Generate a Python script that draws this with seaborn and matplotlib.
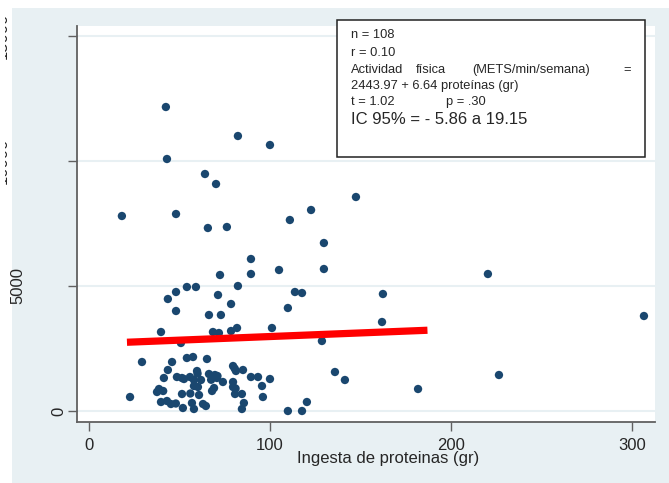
import matplotlib
matplotlib.use('Agg')
import matplotlib.pyplot as plt
import matplotlib.transforms as mtransforms
from matplotlib.patches import Rectangle
import seaborn as sns
import pandas as pd

# Protein intake (gr) vs physical activity (METS/min/semana)
protein_gr = [
    42.5, 43.1, 82.3, 100.0, 64.1, 70.2, 147.5, 18.2, 48.1, 65.7,
    76.2, 111.0, 122.7, 129.8, 89.5, 72.4, 89.5, 105.0, 129.8, 220.4,
    82.3, 54.1, 59.1, 48.1, 43.6, 71.3, 113.8, 117.7, 78.5, 48.1,
    109.9, 66.3, 72.9, 162.4, 39.8, 68.5, 71.8, 78.5, 81.8, 101.1,
    161.9, 306.6, 128.7, 50.8, 29.3, 45.9, 54.1, 57.5, 65.2, 79.6,
    85.1, 81.2, 43.6, 41.4, 48.6, 51.4, 55.8, 59.7, 58.0, 61.9,
    66.3, 69.6, 70.7, 74.0, 60.2, 58.0, 79.6, 89.5, 93.4, 100.0,
    95.6, 135.9, 141.4, 38.7, 37.6, 51.4, 60.8, 68.0, 69.1, 79.6,
    80.7, 84.5, 96.1, 22.7, 39.8, 43.1, 45.3, 56.9, 51.9, 58.0,
    63.0, 64.6, 85.6, 84.5, 109.9, 117.7, 120.4, 181.8, 226.5,
    60.0, 52.5, 67.5, 81.0, 41.0, 48.0, 71.0, 56.0, 80.5,
]
activity_mets = [
    12160, 10080, 11000, 10640, 9480, 9080, 8560, 7800, 7880, 7320,
    7360, 7640, 8040, 6720, 6080, 5440, 5480, 5640, 5680, 5480,
    5000, 4960, 4960, 4760, 4480, 4640, 4760, 4720, 4280, 4000,
    4120, 3840, 3840, 4680, 3160, 3160, 3120, 3200, 3320, 3320,
    3560, 3800, 2800, 2720, 1960, 1960, 2120, 2160, 2080, 1800,
    1640, 1600, 1640, 1320, 1360, 1320, 1360, 1600, 1240, 1240,
    1480, 1440, 1320, 1160, 960, 1000, 1160, 1360, 1360, 1280,
    1000, 1560, 1240, 880, 760, 680, 640, 800, 920, 960,
    680, 680, 560, 560, 360, 400, 280, 320, 120, 80,
    280, 200, 320, 80, 0, 0, 360, 880, 1440,
    1500, 1280, 1250, 900, 800, 300, 1400, 700, 1700,
]

# fitted line as drawn
fit_x = [21, 187]
fit_y = [2750, 3230]

x_ticks = [0, 100, 200, 300]
y_ticks = [0, 5000, 10000, 15000]
y_tick_labels = ['0', '5000', '10000', '15000']

box_lines = ['n = 108', 'r = 0.10']
box_eq_words = ['Actividad', 'física', '(METS/min/semana)', '=']
box_eq_line2 = '2443.97 + 6.64 proteínas (gr)'
box_test = ['t = 1.02', 'p = .30']
box_ci = 'IC 95% = - 5.86 a 19.15'
x_label = 'Ingesta de proteinas (gr)'

sns.set_style('white')
plt.rcParams['font.family'] = ['Liberation Sans', 'DejaVu Sans']

W, H = 669, 483
BG = '#e8f0f3'
NAVY = '#1a476f'
AXC = '#606060'


def fx(px):
    return px / W


def fy(py):
    return 1 - py / H


fig = plt.figure(figsize=(W / 100, H / 100), dpi=100, facecolor='white')
fig.add_artist(Rectangle((fx(12), 0), 1 - fx(12), fy(8), transform=fig.transFigure,
                         facecolor=BG, edgecolor='none', zorder=-1))

ax = fig.add_axes([fx(77), fy(422), fx(655) - fx(77), fy(26) - fy(422)])
ax.set_facecolor('white')

df = pd.DataFrame({'protein': protein_gr, 'mets': activity_mets})
sns.scatterplot(data=df, x='protein', y='mets', color=NAVY, s=36,
                edgecolor='none', linewidth=0, ax=ax, zorder=3)
sns.lineplot(x=fit_x, y=fit_y, color='#ff0000', linewidth=5.2, ax=ax,
             zorder=4, solid_capstyle='butt')

ax.set_xlim(-6.6, 312.7)
ax.set_ylim(-440, 15400)
ax.set_xlabel('')
ax.set_ylabel('')

for s in ['top', 'right']:
    ax.spines[s].set_visible(False)
for s in ['left', 'bottom']:
    ax.spines[s].set_color(AXC)
    ax.spines[s].set_linewidth(1.3)

ax.set_xticks(x_ticks)
ax.set_xticklabels([str(t) for t in x_ticks], fontsize=12)
ax.set_yticks(y_ticks)
ax.set_yticklabels([y_tick_labels[0], '', '', ''], rotation=90, va='center', fontsize=12)
ax.tick_params(axis='both', direction='out', length=6.5, width=1, color=AXC,
               bottom=True, left=True)
ax.tick_params(axis='x', pad=5)
ax.tick_params(axis='y', pad=1.5)
ax.yaxis.grid(True, color=BG, linewidth=1.5)
ax.xaxis.grid(False)
ax.set_axisbelow(True)

# y labels that sit out at the left edge (mostly cut off in the original)
trans = mtransforms.blended_transform_factory(fig.transFigure, ax.transData)
ax.text(fx(18), y_ticks[1], y_tick_labels[1], rotation=90, ha='center', va='center',
        fontsize=12, transform=trans, clip_on=False)
for v, lab in zip(y_ticks[2:], y_tick_labels[2:]):
    ax.text(fx(9.3), v, lab, rotation=90, ha='right', va='center',
            fontsize=12, transform=trans, clip_on=False)
fig.add_artist(Rectangle((0, 0), fx(5), 1, transform=fig.transFigure,
                         facecolor='white', edgecolor='none', zorder=5))

# stats box
fig.add_artist(Rectangle((fx(337), fy(157)), fx(645) - fx(337), fy(20) - fy(157),
                         transform=fig.transFigure, facecolor='white',
                         edgecolor='#222222', linewidth=1.1, zorder=6))
tkw = dict(fontsize=9.3, va='center', ha='left', zorder=7)
fig.text(fx(351), fy(35), box_lines[0], **tkw)
fig.text(fx(351), fy(53), box_lines[1], **tkw)
for xp, w in zip([351, 416, 472, 623], box_eq_words):
    fig.text(fx(xp), fy(70), w, **tkw)
fig.text(fx(351), fy(86), box_eq_line2, **tkw)
fig.text(fx(351), fy(102), box_test[0], **tkw)
fig.text(fx(446), fy(102), box_test[1], **tkw)
fig.text(fx(351), fy(120), box_ci, fontsize=12, va='center', ha='left', zorder=7)

fig.text(fx(388), fy(458), x_label, ha='center', va='center', fontsize=12)

fig.savefig('out.png', dpi=100, facecolor='white')
